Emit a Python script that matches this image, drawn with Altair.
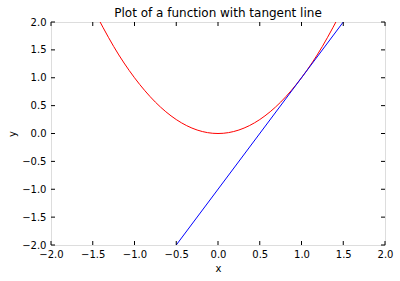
import altair as alt
import pandas as pd

# Red curve: values
curve_x = [-1.5, -1.25, -1.0, -0.75, -0.5, -0.25, 0.0, 0.25, 0.5, 0.75, 1.0, 1.25, 1.5]
curve_y = [2.25, 1.5625, 1.0, 0.5625, 0.25, 0.0625, 0.0, 0.0625, 0.25, 0.5625, 1.0, 1.5625, 2.25]

# Blue tangent line endpoints
tan_x = [-0.5, 1.5]
tan_y = [-2.0, 2.0]

tick_values = [-2.0, -1.5, -1.0, -0.5, 0.0, 0.5, 1.0, 1.5, 2.0]

W, H = 334, 223
FONT = "DejaVu Sans"

curve_df = pd.DataFrame({"x": curve_x, "y": curve_y})
tan_df = pd.DataFrame({"x": tan_x, "y": tan_y})
ticks_df = pd.DataFrame({"v": tick_values})

xscale = alt.Scale(domain=[-2, 2], nice=False, zero=False)
yscale = alt.Scale(domain=[-2, 2], nice=False, zero=False)

xaxis = alt.Axis(values=tick_values, format=".1f", tickSize=0, domain=False, grid=False,
                 labelFont=FONT, labelFontSize=10, labelColor="black", labelPadding=4,
                 labelOverlap=False,
                 title="x", titleFont=FONT, titleFontSize=10, titleFontWeight="normal",
                 titleColor="black", titlePadding=4, labelFlush=False)
yaxis = alt.Axis(values=tick_values, format=".1f", tickSize=0, domain=False, grid=False,
                 labelFont=FONT, labelFontSize=10, labelColor="black", labelPadding=5,
                 labelOverlap=False,
                 title="y", titleFont=FONT, titleFontSize=10, titleFontWeight="normal",
                 titleColor="black", titlePadding=4, labelFlush=False)

def X(f):
    return alt.X(f, scale=xscale, axis=xaxis, title="x")

def Y(f):
    return alt.Y(f, scale=yscale, axis=yaxis, title="y")

curve = alt.Chart(curve_df).mark_line(color="#ff0000", strokeWidth=1, interpolate="natural", clip=True).encode(
    x=X("x:Q"), y=Y("y:Q"))

tangent = alt.Chart(tan_df).mark_line(color="#0000ff", strokeWidth=1, clip=True).encode(
    x=X("x:Q"), y=Y("y:Q"))

tl = 4
bottom_ticks = alt.Chart(ticks_df).mark_rule(color="black", strokeWidth=1).encode(
    x=X("v:Q"), y=alt.value(H), y2=alt.value(H - tl))
top_ticks = alt.Chart(ticks_df).mark_rule(color="black", strokeWidth=1).encode(
    x=X("v:Q"), y=alt.value(0), y2=alt.value(tl))
left_ticks = alt.Chart(ticks_df).mark_rule(color="black", strokeWidth=1).encode(
    y=Y("v:Q"), x=alt.value(0), x2=alt.value(tl))
right_ticks = alt.Chart(ticks_df).mark_rule(color="black", strokeWidth=1).encode(
    y=Y("v:Q"), x=alt.value(W), x2=alt.value(W - tl))

chart = alt.layer(curve, tangent, bottom_ticks, top_ticks, left_ticks, right_ticks).properties(
    width=W, height=H,
    title=alt.TitleParams("Plot of a function with tangent line", font=FONT, fontSize=12,
                          fontWeight="normal", color="black", anchor="middle", offset=-3),
    autosize=alt.AutoSizeParams(type="none"),
    padding={"left": 51, "top": 22, "right": 15, "bottom": 36},
).configure_view(stroke="black", strokeWidth=1).configure(background="white")

chart.save("out.html", embed_options={"renderer": "svg", "actions": False})
